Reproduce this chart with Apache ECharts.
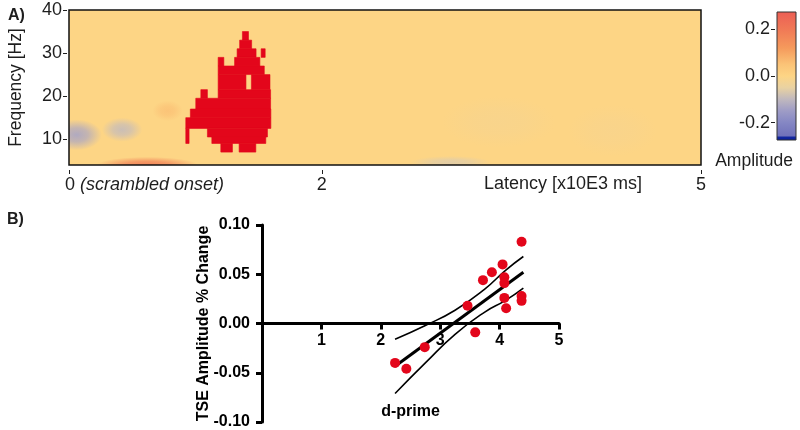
<!DOCTYPE html>
<html><head><meta charset="utf-8">
<script src="https://cdn.jsdelivr.net/npm/echarts@6/dist/echarts.min.js"></script>
<style>html,body{margin:0;padding:0;background:#fff}#c{width:800px;height:430px}</style>
</head><body><div id="c"></div>
<script>
// ---------- Panel A : time-frequency amplitude map ----------
const latencyTicks = [0, 2, 5];
const freqTicks = [10, 20, 30, 40];
// smooth background deviations: [latency, freq, radiusLatency, radiusFreq, amplitude]
const fieldBlobs = [
  [0.06, 11.0, 0.20, 3.6, -0.13],
  [0.42, 12.2, 0.16, 2.8, -0.09],
  [0.62, 4.0, 0.40, 1.9, 0.18],
  [0.78, 16.6, 0.12, 2.4, 0.05],
  [3.02, 4.6, 0.32, 1.5, -0.06],
  [3.40, 14.0, 0.45, 6.0, -0.012],
  [4.30, 12.0, 0.35, 6.0, -0.01]
];
// significant cluster cells: [freqLow, freqHigh, latencyStart, latencyEnd]
const clusterCells = [
  [33.0, 35.0, 1.372, 1.420],
  [31.0, 33.0, 1.350, 1.445],
  [29.0, 31.0, 1.330, 1.480],
  [29.0, 31.0, 1.520, 1.552],
  [27.0, 29.0, 1.180, 1.225],
  [27.0, 29.0, 1.310, 1.510],
  [25.0, 27.0, 1.180, 1.545],
  [21.5, 25.0, 1.180, 1.400],
  [21.5, 25.0, 1.443, 1.590],
  [19.5, 21.5, 1.043, 1.095],
  [19.5, 21.5, 1.180, 1.595],
  [17.0, 19.5, 1.003, 1.595],
  [15.0, 17.0, 0.960, 1.597],
  [12.5, 15.0, 0.924, 1.597],
  [9.0, 12.5, 0.924, 0.950],
  [10.5, 12.5, 1.095, 1.570],
  [9.0, 10.5, 1.130, 1.557],
  [7.0, 9.0, 1.201, 1.293],
  [7.0, 9.0, 1.346, 1.478]
];
const ampTicks = [-0.2, 0, 0.2];
const ampRange = [-0.275, 0.275];
const ampStops = [0.275, 0.2, 0.12, 0.05, 0.0, -0.05, -0.1, -0.15, -0.2, -0.258, -0.262, -0.275];
const ampColors = ['#EC5F55', '#F07956', '#F59A5C', '#FBC377', '#FDD585', '#E9D2A2', '#C0B8BE', '#9E9CC6', '#8587C4', '#7071BA', '#1428A0', '#0A1E9A'];

// ---------- Panel B : correlation ----------
const dprime = [2.24, 2.43, 2.74, 3.46, 3.59, 3.72, 3.87, 4.05, 4.08, 4.08, 4.08, 4.11, 4.37, 4.37, 4.37];
const tseChange = [-0.040, -0.046, -0.024, 0.018, -0.009, 0.044, 0.052, 0.060, 0.047, 0.041, 0.026, 0.0155, 0.083, 0.028, 0.023];
const fitX = [2.24, 4.40];
const fitY = [-0.0434, 0.052];
const bandX = [2.24, 2.75, 3.25, 3.75, 4.10, 4.40];
const bandUpper = [-0.016, -0.002, 0.0135, 0.035, 0.054, 0.068];
const bandLower = [-0.071, -0.040, -0.011, 0.0116, 0.0235, 0.036];

function hexRgb(h){return [parseInt(h.slice(1,3),16),parseInt(h.slice(3,5),16),parseInt(h.slice(5,7),16)];}
function ampColor(v){
  for(let i=0;i<ampStops.length-1;i++){
    const a=ampStops[i], b=ampStops[i+1];
    if(v<=a && v>=b){
      const t=(a-v)/(a-b), c1=hexRgb(ampColors[i]), c2=hexRgb(ampColors[i+1]);
      return c1.map((x,k)=>Math.round(x+(c2[k]-x)*t));
    }
  }
  return hexRgb(v>0?ampColors[0]:ampColors[ampColors.length-1]);
}
function rgba(c,a){return 'rgba('+c[0]+','+c[1]+','+c[2]+','+a+')';}

const FONT = "'Liberation Sans', Arial, Helvetica, sans-serif";
const baseColor = '#FDD585';
const TXT = '#1e1e1e';

const chart = echarts.init(document.getElementById('c'), null, {renderer:'canvas'});
chart.setOption({
  animation:false,
  backgroundColor:'#fff',
  textStyle:{fontFamily:FONT},
  title:[
    {text:'A)', left:3, top:3, textStyle:{fontSize:16, fontWeight:'bold', color:TXT, fontFamily:FONT}},
    {text:'B)', left:2, top:207, textStyle:{fontSize:16, fontWeight:'bold', color:TXT, fontFamily:FONT}}
  ],
  grid:[
    {left:69, top:10, width:632, height:155, show:true, backgroundColor:baseColor, borderWidth:0, outerBoundsMode:'none'},
    {left:777, top:12, width:19, height:128, show:true, backgroundColor:'transparent', borderColor:'#333', borderWidth:1, z:10, outerBoundsMode:'none'},
    {left:262, top:225, width:297, height:197, outerBoundsMode:'none'},
    {left:69, top:10, width:632, height:155, show:true, backgroundColor:'transparent', borderColor:'#111', borderWidth:1.5, z:10, outerBoundsMode:'none'}
  ],
  xAxis:[
    {type:'value', gridIndex:0, min:0, max:5, position:'bottom', offset:5,
     axisLine:{show:false, onZero:false}, splitLine:{show:false},
     axisTick:{show:true, customValues:latencyTicks, length:4, lineStyle:{color:TXT, width:1}},
     axisLabel:{customValues:latencyTicks, margin:6, color:TXT, fontSize:18, fontFamily:FONT,
       align:'center',
       formatter:v=> v===0 ? '{p| }{n|0 }{i|(scrambled onset)}' : String(v),
       rich:{p:{width:151, fontSize:18}, n:{fontSize:18, color:TXT, fontFamily:FONT}, i:{fontSize:18, fontStyle:'italic', color:TXT, fontFamily:FONT}}},
     name:'Latency [x10E3 ms]', nameLocation:'end', nameGap:-59, nameMoveOverlap:false,
     nameTextStyle:{fontSize:18, color:TXT, fontFamily:FONT, align:'right', verticalAlign:'top', padding:[5,0,0,0]}},
    {type:'value', gridIndex:1, min:0, max:1, show:true,
     axisLine:{show:false, onZero:false}, axisTick:{show:false}, axisLabel:{show:false}, splitLine:{show:false},
     name:'Amplitude', nameLocation:'end', nameGap:-3, nameMoveOverlap:false,
     nameTextStyle:{fontSize:17.5, color:TXT, fontFamily:FONT, align:'right', verticalAlign:'top', padding:[12,0,0,0]}},
    {type:'value', gridIndex:2, min:0, max:5, interval:1, position:'bottom', offset:-98.5,
     axisLine:{show:true, onZero:false, lineStyle:{color:'#000', width:3}},
     axisTick:{show:true, length:6, lineStyle:{color:'#000', width:3}},
     axisLabel:{show:true, interval:0, showMinLabel:false, margin:9, color:'#000', fontSize:16, fontWeight:'bold', fontFamily:FONT},
     splitLine:{show:false},
     name:'d-prime', nameLocation:'middle', nameGap:80, nameMoveOverlap:false,
     nameTextStyle:{fontSize:16, fontWeight:'bold', color:'#000', fontFamily:FONT}},
    {type:'value', gridIndex:3, min:0, max:5, show:false}
  ],
  yAxis:[
    {type:'value', gridIndex:0, min:4, max:40, position:'left', offset:2,
     axisLine:{show:false, onZero:false}, splitLine:{show:false},
     axisTick:{show:true, customValues:freqTicks, length:4, lineStyle:{color:TXT, width:1}},
     axisLabel:{customValues:freqTicks, margin:5, color:TXT, fontSize:18, fontFamily:FONT},
     name:'Frequency [Hz]', nameLocation:'middle', nameGap:42, nameMoveOverlap:false,
     nameTextStyle:{fontSize:17.5, color:TXT, fontFamily:FONT}},
    {type:'value', gridIndex:1, min:ampRange[0], max:ampRange[1], position:'left', offset:2,
     axisLine:{show:false, onZero:false}, splitLine:{show:false},
     axisTick:{show:true, customValues:ampTicks, length:4, lineStyle:{color:TXT, width:1}},
     axisLabel:{customValues:ampTicks, margin:5, color:TXT, fontSize:18, fontFamily:FONT, formatter:v=>v.toFixed(1)}},
    {type:'value', gridIndex:2, min:-0.1, max:0.1, interval:0.05,
     axisLine:{show:true, onZero:false, lineStyle:{color:'#000', width:3}},
     axisTick:{show:true, length:6, lineStyle:{color:'#000', width:3}},
     axisLabel:{margin:12, color:'#000', fontSize:16, fontWeight:'bold', fontFamily:FONT, formatter:v=>v.toFixed(2)},
     splitLine:{show:false},
     name:'TSE Amplitude % Change', nameLocation:'middle', nameGap:50, nameMoveOverlap:false,
     nameTextStyle:{fontSize:16, fontWeight:'bold', color:'#000', fontFamily:FONT}},
    {type:'value', gridIndex:3, min:4, max:40, show:false}
  ],
  series:[
    {type:'custom', name:'field', xAxisIndex:0, yAxisIndex:0, clip:true, silent:true, z:1,
     data:fieldBlobs,
     renderItem:(params, api)=>{
       const c = api.coord([api.value(0), api.value(1)]);
       const s = api.size([api.value(2), api.value(3)]);
       const col = ampColor(api.value(4));
       return {type:'circle', x:c[0], y:c[1], scaleX:s[0]/s[1], scaleY:1,
         shape:{cx:0, cy:0, r:s[1]},
         style:{fill:new echarts.graphic.RadialGradient(0.5,0.5,0.5,[
           {offset:0, color:rgba(col,0.95)},{offset:0.45, color:rgba(col,0.7)},{offset:1, color:rgba(col,0)}])}};
     }},
    {type:'custom', name:'cluster', xAxisIndex:0, yAxisIndex:0, clip:true, silent:true, z:3,
     data:clusterCells,
     renderItem:(params, api)=>{
       const p0 = api.coord([api.value(2), api.value(1)]);
       const p1 = api.coord([api.value(3), api.value(0)]);
       return {type:'rect', shape:{x:p0[0], y:p0[1], width:p1[0]-p0[0], height:p1[1]-p0[1]},
         style:{fill:'#E3061B', stroke:'#E3061B', lineWidth:0.6}};
     }},
    {type:'custom', name:'colorbar', xAxisIndex:1, yAxisIndex:1, silent:true,
     data:[ampRange],
     renderItem:(params, api)=>{
       const lo = api.value(0), hi = api.value(1);
       const p0 = api.coord([0, hi]), p1 = api.coord([1, lo]);
       const stops = ampStops.map((v,i)=>({offset:Math.min(1,Math.max(0,(hi-v)/(hi-lo))), color:ampColors[i]}));
       return {type:'rect', shape:{x:p0[0], y:p0[1], width:p1[0]-p0[0], height:p1[1]-p0[1]},
         style:{fill:new echarts.graphic.LinearGradient(0,0,0,1,stops)}};
     }},
    {type:'line', name:'upper', xAxisIndex:2, yAxisIndex:2, smooth:true, symbol:'none', silent:true,
     data:bandX.map((x,i)=>[x,bandUpper[i]]), lineStyle:{color:'#000', width:1.6}, z:3},
    {type:'line', name:'lower', xAxisIndex:2, yAxisIndex:2, smooth:true, symbol:'none', silent:true,
     data:bandX.map((x,i)=>[x,bandLower[i]]), lineStyle:{color:'#000', width:1.6}, z:3},
    {type:'line', name:'fit', xAxisIndex:2, yAxisIndex:2, symbol:'none', silent:true,
     data:fitX.map((x,i)=>[x,fitY[i]]), lineStyle:{color:'#000', width:3}, z:3},
    {type:'scatter', name:'subjects', xAxisIndex:2, yAxisIndex:2, symbol:'circle', symbolSize:10,
     data:dprime.map((x,i)=>[x,tseChange[i]]), itemStyle:{color:'#E3061B', opacity:1}, z:5}
  ]
});
</script></body></html>
